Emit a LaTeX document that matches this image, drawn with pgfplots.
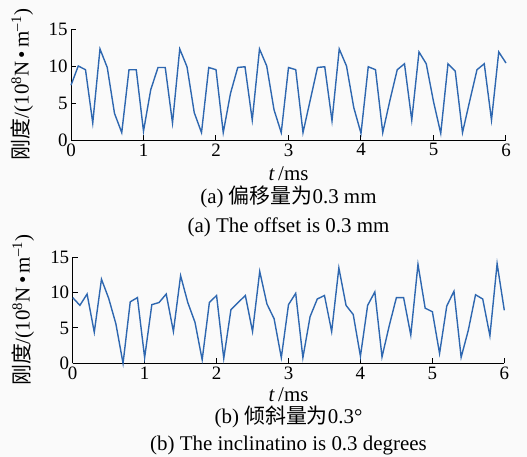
\documentclass[border=0pt]{standalone}
\usepackage{pgfplots}
\pgfplotsset{compat=1.18}
\usepackage{fontspec}
\setmainfont{Liberation Serif}
\newfontfamily\cjk{Noto Sans CJK SC}
\definecolor{curve}{RGB}{46,103,176}
\definecolor{bg}{RGB}{250,250,250}

% t/ms, stiffness (10^8 N/m)
\pgfplotstableread{
t k
0.0 7.4
0.1 10.0
0.2 9.5
0.3 2.3
0.4 12.3
0.5 9.8
0.6 3.6
0.7 1.0
0.8 9.5
0.9 9.5
1.0 1.2
1.1 6.8
1.2 9.8
1.3 9.8
1.4 2.3
1.5 12.3
1.6 9.9
1.7 3.7
1.8 1.0
1.9 9.8
2.0 9.5
2.1 1.0
2.2 6.3
2.3 9.8
2.4 9.9
2.5 2.7
2.6 12.3
2.7 10.0
2.8 4.1
2.9 1.0
3.0 9.8
3.1 9.5
3.2 1.0
3.3 5.4
3.4 9.8
3.5 9.9
3.6 2.6
3.7 12.3
3.8 10.0
3.9 4.4
4.0 0.9
4.1 9.9
4.2 9.5
4.3 1.0
4.4 5.4
4.5 9.5
4.6 10.3
4.7 2.7
4.8 11.9
4.9 10.3
5.0 5.2
5.1 0.9
5.2 10.3
5.3 9.3
5.4 1.0
5.5 5.3
5.6 9.5
5.7 10.3
5.8 2.7
5.9 11.9
6.0 10.4
}\offsetdata

\pgfplotstableread{
t k
0.0 9.3
0.1 8.2
0.2 9.8
0.3 4.4
0.4 11.9
0.5 9.2
0.6 5.6
0.7 0.0
0.8 8.7
0.9 9.3
1.0 0.8
1.1 8.3
1.2 8.6
1.3 9.8
1.4 4.5
1.5 12.4
1.6 8.6
1.7 5.8
1.8 0.5
1.9 8.6
2.0 9.6
2.1 0.7
2.2 7.6
2.3 8.6
2.4 9.6
2.5 4.5
2.6 13.0
2.7 8.4
2.8 6.3
2.9 0.8
3.0 8.3
3.1 9.9
3.2 0.8
3.3 6.6
3.4 9.1
3.5 9.6
3.6 4.5
3.7 13.5
3.8 8.2
3.9 6.9
4.0 1.0
4.1 8.2
4.2 10.1
4.3 0.9
4.4 5.3
4.5 9.3
4.6 9.3
4.7 4.0
4.8 14.0
4.9 7.8
5.0 7.3
5.1 1.4
5.2 8.1
5.3 10.2
5.4 0.85
5.5 4.7
5.6 9.7
5.7 9.1
5.8 3.9
5.9 14.1
6.0 7.5
}\tiltdata

\tikzset{captext/.style={inner sep=0.5bp, anchor=center}}

\pgfplotsset{
  stiff/.style={
    scale only axis,
    xmin=0, xmax=6, ymin=0, ymax=15,
    xtick={0,1,...,6}, ytick={0,5,10,15},
    axis x line=bottom, axis y line=left,
    axis line style={-, line width=1bp, black},
    tick align=inside, major tick length=5bp,
    tick style={line width=1bp, black},
    tick label style={font=\fontsize{19}{22}\selectfont},
    /pgf/number format/assume math mode=true,
    clip=false,
    xlabel={\textit{t}\,/ms},
    ylabel={{\cjk 刚度}/(10\textsuperscript{8}N\,•\,m\textsuperscript{–1})},
  },
}

\begin{document}
\begin{tikzpicture}[font=\fontsize{21}{25}\selectfont]
\path[use as bounding box, fill=bg] (0,0) rectangle (527bp,-457bp);

\begin{axis}[stiff,
  at={(71bp,-140bp)}, anchor=south west,
  width=435bp, height=111bp,
  every axis x label/.style={at={(rel axis cs:0.5,-0.30)}, captext},
  every axis y label/.style={at={(rel axis cs:-0.1126,0.5)}, anchor=center, rotate=90},
  ]
  \addplot[curve, line width=1.4bp] table[x=t, y=k] {\offsetdata};
  \node[captext] at (rel axis cs:0.5,-0.51) {(a) {\cjk 偏移量为}0.3 mm};
  \node[captext] at (rel axis cs:0.5,-0.79) {(a) The offset is 0.3 mm};
\end{axis}

\begin{axis}[stiff,
  at={(72.7bp,-363.3bp)}, anchor=south west,
  width=431.6bp, height=106bp,
  every axis x label/.style={at={(rel axis cs:0.5,-0.30)}, captext},
  every axis y label/.style={at={(rel axis cs:-0.115,0.5)}, anchor=center, rotate=90},
  ]
  \addplot[curve, line width=1.4bp] table[x=t, y=k] {\tiltdata};
  \node[captext] at (rel axis cs:0.5,-0.51) {(b) {\cjk 倾斜量为}0.3°};
  \node[captext] at (rel axis cs:0.5,-0.78) {(b) The inclinatino is 0.3 degrees};
\end{axis}
\end{tikzpicture}
\end{document}
